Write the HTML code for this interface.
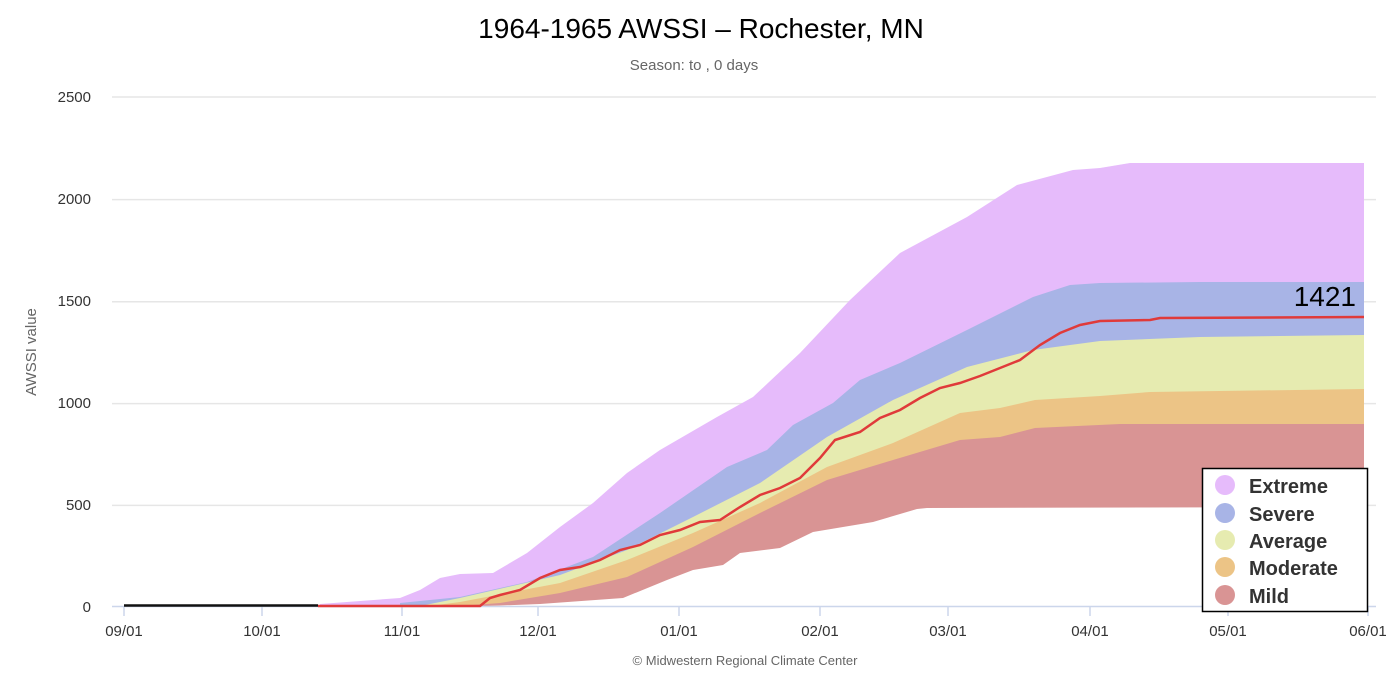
<!DOCTYPE html><html><head><style>body{margin:0;background:#fff}svg{display:block;font-family:"Liberation Sans",sans-serif}</style></head><body>
<svg width="1392" height="676" viewBox="0 0 1392 676">
<rect width="1392" height="676" fill="#fff"/>
<text x="701" y="38" text-anchor="middle" font-size="28" fill="#000">1964-1965 AWSSI – Rochester, MN</text>
<text x="694" y="70" text-anchor="middle" font-size="15" fill="#666">Season: to , 0 days</text>
<g stroke="#e6e6e6" stroke-width="1.5">
<line x1="112" x2="1376" y1="97" y2="97"/><line x1="112" x2="1376" y1="199.6" y2="199.6"/><line x1="112" x2="1376" y1="301.8" y2="301.8"/><line x1="112" x2="1376" y1="403.6" y2="403.6"/><line x1="112" x2="1376" y1="505.4" y2="505.4"/></g>
<g font-size="15" fill="#333" text-anchor="end"><text x="91" y="102">2500</text><text x="91" y="204">2000</text><text x="91" y="306">1500</text><text x="91" y="408">1000</text><text x="91" y="510">500</text><text x="91" y="612">0</text></g>
<text transform="translate(36,352) rotate(-90)" text-anchor="middle" font-size="15" fill="#666">AWSSI value</text>
<polygon fill="#e6bbfb" points="320,606 320,604 400,598 420,590 440,578 460,574 493,573 527,553 560,527 593,503 627,473 660,450 717,417 753,397 800,353 850,300 900,253 967,217 1017,185 1073,170 1100,168 1130,163 1364,163 1364,606"/>
<polygon fill="#a8b4e6" points="400,606 400,603 460,597 527,582 593,557 660,513 727,467 767,450 793,425 833,403 860,380 900,363 967,330 1033,297 1070,285 1100,283 1200,282 1364,282 1364,606"/>
<polygon fill="#e6ebb0" points="420,606 460,598 560,575 627,550 693,517 760,483 827,437 893,400 967,367 1033,350 1100,341 1200,337 1364,335 1364,606"/>
<polygon fill="#ecc486" points="430,606 460,602 560,583 627,560 693,533 760,503 827,467 893,443 960,413 1000,408 1035,400 1100,396 1150,392 1364,389 1364,606"/>
<polygon fill="#d99494" points="460,606 500,603 560,593 627,577 693,547 760,513 827,480 893,460 960,440 1000,437 1035,428 1120,424 1364,424 1364,606"/>
<polygon fill="#fff" points="460,607 540,604 623,598 667,580 693,570 723,565 740,553 780,548 813,532 873,522 917,509 927,508 1364,507 1366,507 1366,607"/>
<line x1="112" x2="1376" y1="606.5" y2="606.5" stroke="#ccd6eb" stroke-width="1.5"/>
<g stroke="#ccd6eb" stroke-width="1.5"><line x1="124" x2="124" y1="606" y2="616"/><line x1="262" x2="262" y1="606" y2="616"/><line x1="402" x2="402" y1="606" y2="616"/><line x1="538" x2="538" y1="606" y2="616"/><line x1="679" x2="679" y1="606" y2="616"/><line x1="820" x2="820" y1="606" y2="616"/><line x1="948" x2="948" y1="606" y2="616"/><line x1="1090" x2="1090" y1="606" y2="616"/><line x1="1228" x2="1228" y1="606" y2="616"/><line x1="1368" x2="1368" y1="606" y2="616"/></g>
<g font-size="15" fill="#333" text-anchor="middle"><text x="124" y="636">09/01</text><text x="262" y="636">10/01</text><text x="402" y="636">11/01</text><text x="538" y="636">12/01</text><text x="679" y="636">01/01</text><text x="820" y="636">02/01</text><text x="948" y="636">03/01</text><text x="1090" y="636">04/01</text><text x="1228" y="636">05/01</text><text x="1368" y="636">06/01</text></g>
<line x1="124" x2="318" y1="605.5" y2="605.5" stroke="#111" stroke-width="2.5"/>
<polyline fill="none" stroke="#e03a3a" stroke-width="2.5" points="318,606 480,606 490,598 500,595 520,590 540,578 560,570 580,567 600,560 620,550 640,545 660,535 680,530 700,522 720,520 740,507 760,495 780,488 800,478 820,458 835,440 860,432 880,418 900,410 920,398 940,388 960,383 980,376 1000,368 1020,360 1040,345 1060,333 1080,325 1100,321 1150,320 1160,318 1364,317"/>
<text x="1356" y="306" text-anchor="end" font-size="28" fill="#000">1421</text>
<text x="745" y="665" text-anchor="middle" font-size="13" fill="#666">© Midwestern Regional Climate Center</text>
<rect x="1202.5" y="468.5" width="165" height="143" fill="#fff" stroke="#000" stroke-width="1.5"/>
<g font-size="20" font-weight="bold" fill="#333">
<circle cx="1225" cy="485" r="10" fill="#e6bbfb"/><text x="1249" y="493">Extreme</text>
<circle cx="1225" cy="513" r="10" fill="#a8b4e6"/><text x="1249" y="521">Severe</text>
<circle cx="1225" cy="540" r="10" fill="#e6ebb0"/><text x="1249" y="548">Average</text>
<circle cx="1225" cy="567" r="10" fill="#ecc486"/><text x="1249" y="575">Moderate</text>
<circle cx="1225" cy="595" r="10" fill="#d99494"/><text x="1249" y="603">Mild</text></g>
</svg></body></html>
